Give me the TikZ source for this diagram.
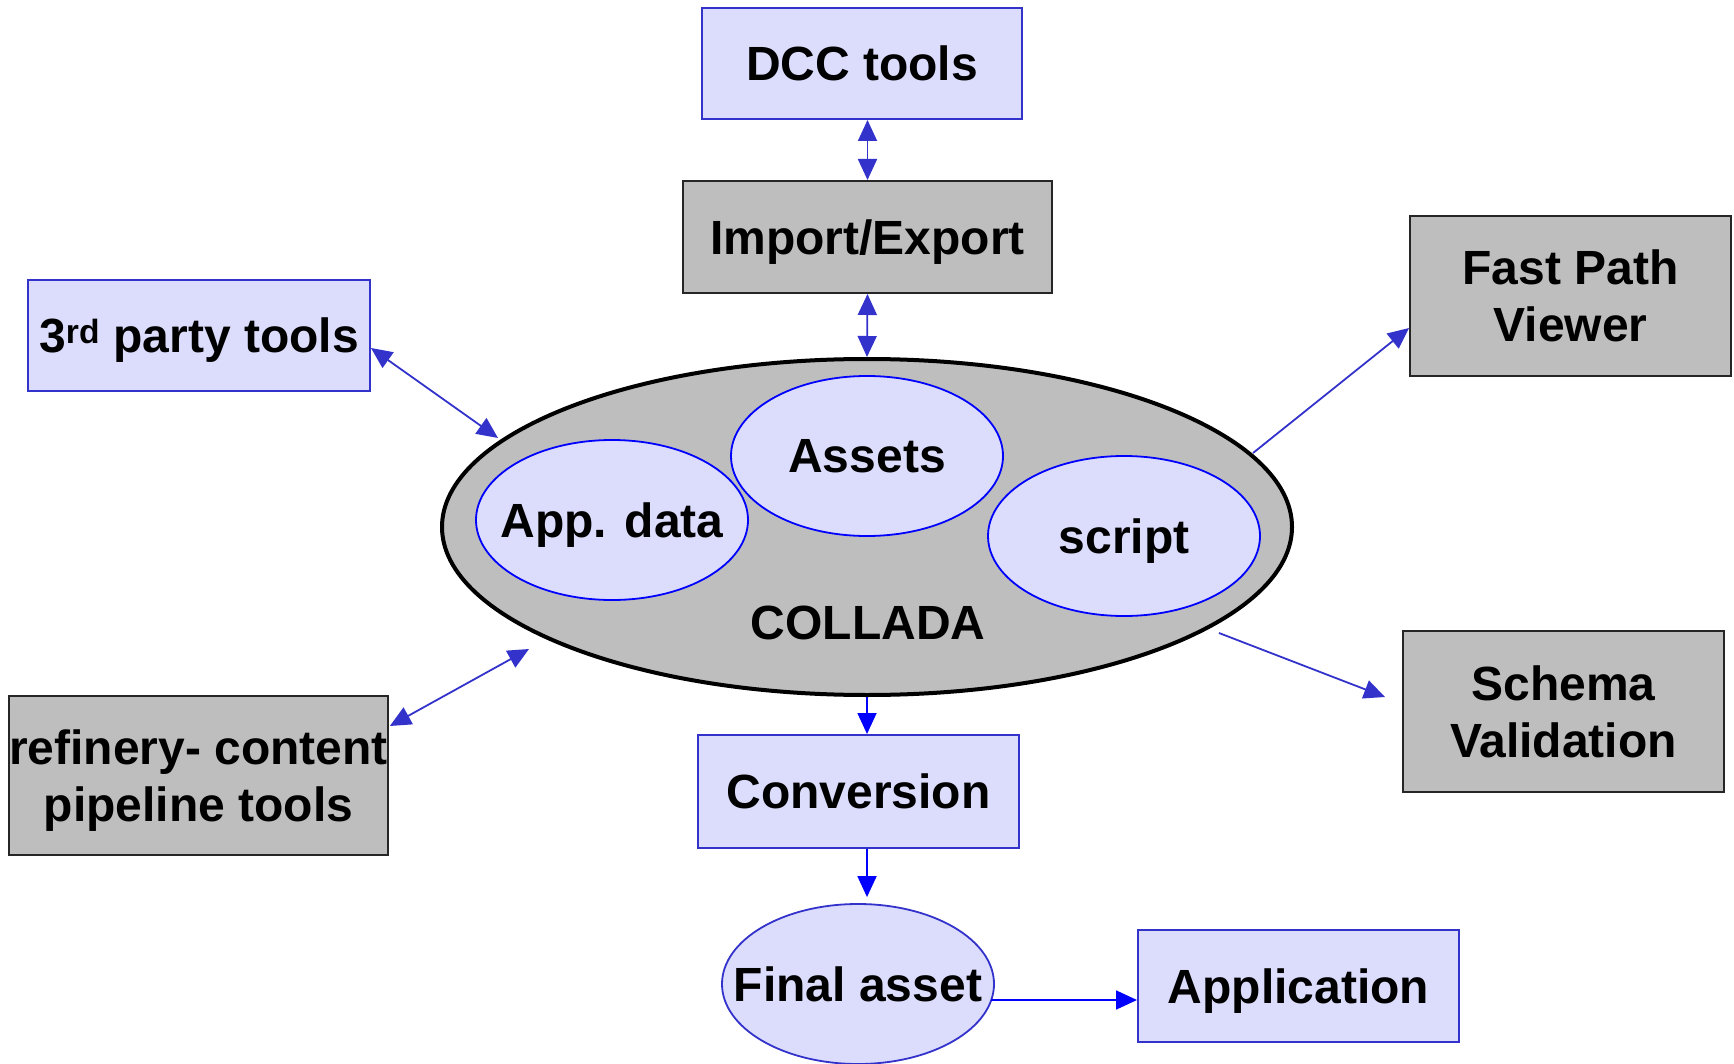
\documentclass[tikz,border=0pt]{standalone}
\usepackage{fontspec}
\setmainfont{Liberation Sans}
\usetikzlibrary{arrows.meta,shapes.geometric,calc}
\definecolor{lightfill}{RGB}{220,220,252}
\definecolor{grayfill}{RGB}{190,190,190}
\definecolor{edgeblue}{RGB}{51,51,204}
\definecolor{pureblue}{RGB}{0,0,255}
\tikzset{
  lbl/.style={font=\fontsize{48}{57}\selectfont\bfseries, align=center, inner sep=0pt, text depth=0pt},
  bluebox/.style={lbl, rectangle, draw=edgeblue, fill=lightfill, line width=2pt},
  graybox/.style={lbl, rectangle, draw=black!85, fill=grayfill, line width=2pt},
  innerell/.style={lbl, ellipse, draw=pureblue, fill=lightfill, line width=1.8pt, minimum width=272pt, minimum height=160pt},
  tip/.style={Triangle[length=21pt,width=19pt]},
  conn/.style={draw=edgeblue, line width=1.8pt, -{Triangle[length=21pt,width=19pt]}},
  biconn/.style={draw=edgeblue, line width=1.8pt, {Triangle[length=21pt,width=19pt]}-{Triangle[length=21pt,width=19pt]}},
  flow/.style={draw=pureblue, line width=1.8pt, -{Triangle[length=21pt,width=19pt,fill=pureblue]}, color=pureblue},
}
\begin{document}
\begin{tikzpicture}[x=1pt,y=-1pt]
\useasboundingbox (0,0) rectangle (1734,1064);
% boxes
\node[bluebox, minimum width=320pt, minimum height=111pt] (dcc) at (862,63.5) {DCC tools};
\node[graybox, minimum width=369pt, minimum height=112pt] (imp) at (867.5,237) {Import/Export};
\node[graybox, minimum width=321pt, minimum height=160pt] (fast) at (1570.5,296) {Fast Path\\Viewer};
\node[bluebox, minimum width=342pt, minimum height=111pt] (third) at (199,335.5) {3\textsuperscript{rd} party tools};
\node[graybox, minimum width=375pt, minimum height=159pt] (refin) at (198.5,775.5) {refinery- content\\pipeline tools};
\node[graybox, minimum width=321pt, minimum height=161pt] (schema) at (1563.5,711.5) {Schema\\Validation};
\node[bluebox, minimum width=321pt, minimum height=113pt] (conv) at (858.5,791.5) {Conversion};
\node[bluebox, minimum width=321pt, minimum height=112pt] (app) at (1298.5,986) {Application};
% COLLADA
\node[ellipse, draw=black, fill=grayfill, line width=4pt, minimum width=850pt, minimum height=336pt, inner sep=0pt] (coll) at (867,527) {};
\node[innerell] (assets) at (867,456) {\makebox[0pt]{Assets}};
\node[innerell] (appdata) at (612,520) {\makebox[0pt]{App. data}};
\node[innerell] (script) at (1124,536) {\makebox[0pt]{script}};
\node[lbl] (colllbl) at (868,623) {COLLADA};
\node[innerell, draw=edgeblue] (final) at (858,984) {\makebox[0pt]{Final asset}};
% connectors
\draw[biconn] (dcc.south -| imp.south) -- (imp.north);
\draw[biconn] (imp.south) -- (coll.north);
\draw[biconn] ($(third.east)+(0,12.5)$) -- ($(coll.center)+(-369,-89)$);
\draw[biconn] ($(refin.north east)+(1,31)$) -- ($(coll.center)+(-338,122)$);
\draw[conn] ($(coll.center)+(386,-74)$) -- ($(fast.west)+(0,32)$);
\draw[conn] ($(coll.center)+(352,106)$) -- ($(schema.west)+(-17,-14.5)$);
\draw[flow] (coll.south) -- (coll.south |- conv.north);
\draw[flow] (conv.south -| coll.south) -- ($(final.north -| coll.south)+(0,-6)$);
\draw[flow] ($(final.center)+(133,16)$) -- (app.west |- {$(final.center)+(0,16)$});
\end{tikzpicture}
\end{document}
